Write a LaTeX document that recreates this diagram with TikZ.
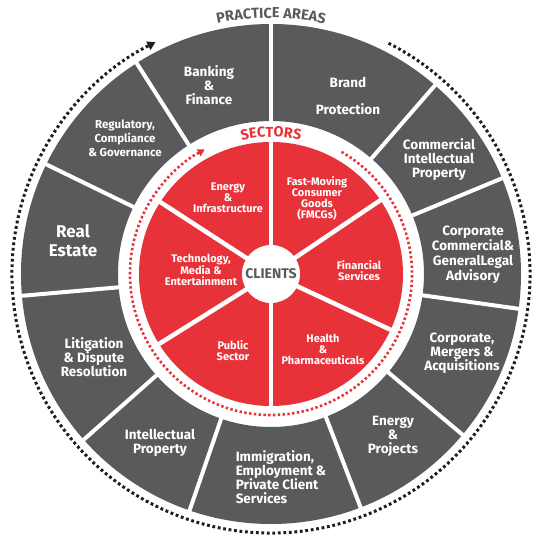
\documentclass[tikz,border=0pt]{standalone}
\usepackage{fontspec}
\setmainfont{Fira Sans}
\usetikzlibrary{arrows.meta,decorations.text}
\definecolor{dgray}{RGB}{89,90,92}
\definecolor{cred}{RGB}{232,50,57}
\definecolor{dotblack}{RGB}{30,30,30}
\begin{document}
\begin{tikzpicture}[x=1pt,y=1pt,
  outlbl/.style={text=white, font=\fontsize{13.5}{14}\selectfont\bfseries, align=center, inner sep=0pt},
  seclbl/.style={text=white, font=\fontsize{11}{11}\selectfont\bfseries, align=center, inner sep=0pt},
  divout/.style={white, line width=4pt},
  divin/.style={white, line width=4.5pt},
  dotted outer/.style={dotblack, line width=3pt, dash pattern=on 2.8pt off 2.7pt, -{Triangle[length=8pt,width=9pt]}},
  dotted inner/.style={cred, line width=2.6pt, dash pattern=on 2.4pt off 2.4pt, -{Triangle[length=7pt,width=7.5pt]}}]
\useasboundingbox (-271,-269) rectangle (272,274);
\fill[white] (-271,-269) rectangle (272,274);
% outer dark ring
\fill[dgray, even odd rule] (0,0) circle (250) (0,0) circle (153);
\foreach \a in {90,49,22.5,-8,-40,-69,-109,-138.5,-175,154,122.5}
  \draw[divout] (\a:148) -- (\a:254);
% red disk
\fill[cred] (0,0) circle (132);
\foreach \a in {90,34,-25,-90,-148,147}
  \draw[divin] (0,0) -- (\a:135);
\fill[white] (0,0) circle (29);
% dotted arcs
\draw[dotted outer] (63:259) arc (63:-243.5:259);
\draw[dotted inner] (60:141) arc (60:-242:141);
% curved titles
\path[decorate, decoration={text along path, text={|\fontsize{14.5}{14.5}\selectfont\bfseries|PRACTICE AREAS}, text align=center, text color=dgray}] (120:256) arc (120:60:256);
\path[decorate, decoration={text along path, text={|\fontsize{14.5}{14.5}\selectfont\bfseries|SECTORS}, text align=center, text color=cred}] (115:137) arc (115:65:137);
% centre
\node[text=dgray, font=\fontsize{14}{14}\selectfont\bfseries] (cl) at (0,0) {CLIENTS};
% sector labels
\node[seclbl] (en) at (-43,76) {Energy\\\&\\Infrastructure};
\node[seclbl] (fm) at (46,76) {Fast-Moving\\Consumer\\Goods\\(FMCGs)};
\node[seclbl] (fs) at (88,3) {Financial\\Services};
\node[seclbl] (hp) at (52,-75) {Health\\\&\\Pharmaceuticals};
\node[seclbl] (ps) at (-38,-77) {Public\\Sector};
\node[seclbl] (tm) at (-70,4) {Technology,\\Media \&\\Entertainment};
% practice area labels
\node[outlbl] (bank) at (-62,189) {Banking\\\&\\Finance};
\node[outlbl] (brand) at (77,178) {Brand\\[13pt]Protection};
\node[outlbl, font=\fontsize{11.5}{14}\selectfont\bfseries] (reg) at (-146,136) {Regulatory,\\Compliance\\\& Governance};
\node[outlbl] (cip) at (168,114) {Commercial\\Intellectual\\Property};
\node[outlbl, font=\fontsize{17}{19}\selectfont\bfseries] (re) at (-198,33) {Real\\Estate};
\node[outlbl, font=\fontsize{13.5}{15}\selectfont\bfseries] (ccg) at (202,19) {Corporate\\Commercial\&\\GeneralLegal\\Advisory};
\node[outlbl] (lit) at (-177,-83) {Litigation\\\& Dispute\\Resolution};
\node[outlbl] (cma) at (191,-79) {Corporate,\\Mergers \&\\Acquisitions};
\node[outlbl] (ip) at (-111,-169) {Intellectual\\Property};
\node[outlbl] (ep) at (122,-162) {Energy\\\&\\Projects};
\node[outlbl, align=left] (imm) at (10,-203) {Immigration,\\Employment \&\\Private Client\\Services};
\end{tikzpicture}
\end{document}
